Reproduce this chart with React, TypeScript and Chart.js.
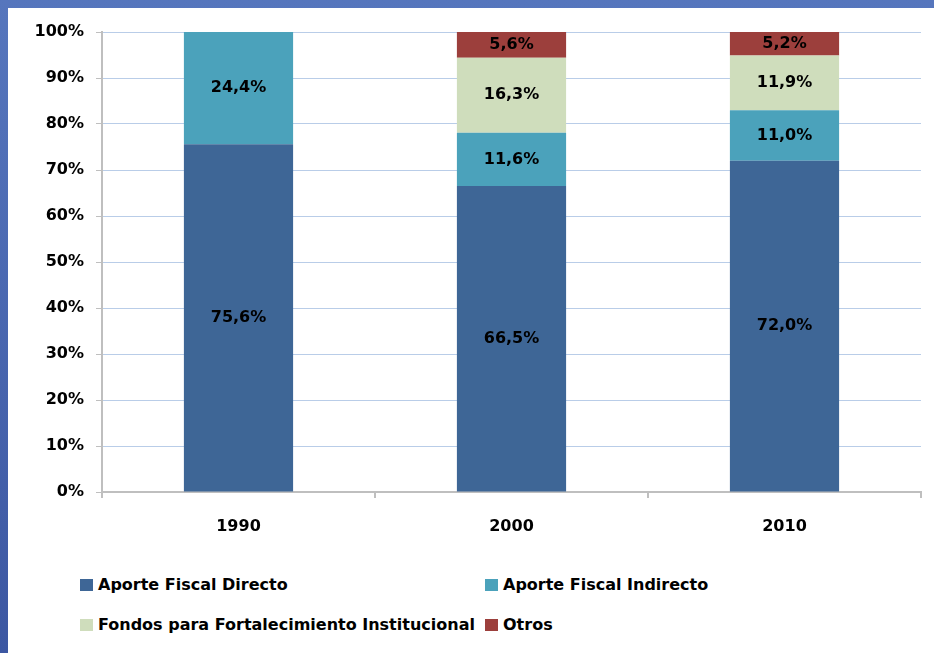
import React, { useEffect, useRef } from "react";
import { Chart, registerables } from "chart.js";

Chart.register(...registerables);

const categories = ["1990", "2000", "2010"];
const aporteDirecto = [75.6, 66.5, 72.0];
const aporteIndirecto = [24.4, 11.6, 11.0];
const fondos = [0, 16.3, 11.9];
const otros = [0, 5.6, 5.2];
const seriesNames = [
  "Aporte Fiscal Directo",
  "Aporte Fiscal Indirecto",
  "Fondos para Fortalecimiento Institucional",
  "Otros",
];
const seriesColors = ["#3E6696", "#4BA2BB", "#CFDDBC", "#9C3F3C"];

const FONT = "'DejaVu Sans', Verdana, sans-serif";

const labelPlugin = {
  id: "barLabels",
  afterDatasetsDraw(chart: any) {
    const ctx = chart.ctx;
    ctx.save();
    ctx.font = `bold 16px ${FONT}`;
    ctx.fillStyle = "#000";
    ctx.textAlign = "center";
    ctx.textBaseline = "middle";
    chart.data.datasets.forEach((ds: any, di: number) => {
      const meta = chart.getDatasetMeta(di);
      meta.data.forEach((el: any, i: number) => {
        const v = ds.data[i];
        if (!v) return;
        const y = (el.y + el.base) / 2;
        ctx.fillText(v.toFixed(1).replace(".", ",") + "%", el.x, y);
      });
    });
    ctx.restore();
  },
};

export default function App() {
  const ref = useRef<HTMLCanvasElement>(null);
  useEffect(() => {
    const data = [aporteDirecto, aporteIndirecto, fondos, otros];
    const chart = new Chart(ref.current!, {
      type: "bar",
      data: {
        labels: categories,
        datasets: data.map((d, i) => ({
          label: seriesNames[i],
          data: d,
          backgroundColor: seriesColors[i],
          borderWidth: 0,
          barPercentage: 0.4,
          categoryPercentage: 1,
        })),
      },
      options: {
        animation: false,
        responsive: false,
        layout: { padding: { left: 0, right: 13, top: 32, bottom: 0 } },
        plugins: { legend: { display: false }, tooltip: { enabled: false } },
        scales: {
          x: {
            stacked: true,
            offset: true,
            grid: {
              display: true,
              drawOnChartArea: false,
              drawTicks: true,
              tickLength: 6,
              lineWidth: 2,
              color: "#BFBFBF",
              offset: true,
            },
            border: { color: "#BFBFBF", width: 2 },
            ticks: {
              color: "#000",
              font: { family: FONT, size: 16, weight: "bold" },
              padding: 19,
            },
            afterFit(scale: any) {
              scale.height = 68;
            },
          },
          y: {
            stacked: true,
            min: 0,
            max: 100,
            grid: {
              color: "#B9CDE8",
              tickColor: "#BFBFBF",
              tickLength: 6,
              lineWidth: 1,
            },
            border: { color: "#BFBFBF", width: 2 },
            ticks: {
              stepSize: 10,
              color: "#000",
              padding: 12,
              font: { family: FONT, size: 16, weight: "bold" },
              callback: (v: any) => v + "%",
            },
            afterFit(scale: any) {
              scale.width = 102;
            },
          },
        },
      } as any,
      plugins: [labelPlugin],
    });
    return () => chart.destroy();
  }, []);

  const legendItem = (i: number, left: number, top: number) => (
    <div
      key={i}
      style={{
        position: "absolute",
        left,
        top,
        display: "flex",
        alignItems: "center",
        fontFamily: FONT,
        fontWeight: "bold",
        fontSize: 16,
        color: "#000",
        whiteSpace: "nowrap",
      }}
    >
      <span
        style={{
          display: "inline-block",
          width: 13,
          height: 12,
          background: seriesColors[i],
          marginRight: 5,
        }}
      />
      {seriesNames[i]}
    </div>
  );

  return (
    <div
      style={{
        position: "fixed",
        left: 0,
        top: 0,
        width: 934,
        height: 653,
        background: "linear-gradient(180deg, #5676BD 0%, #3C57A2 100%)",
        overflow: "hidden",
      }}
    >
      <div
        style={{
          position: "absolute",
          left: 8,
          top: 8,
          right: 0,
          bottom: 0,
          background: "#fff",
        }}
      />
      <canvas
        ref={ref}
        width={934}
        height={560}
        style={{ position: "absolute", left: 0, top: 0, width: 934, height: 560 }}
      />
      {legendItem(0, 80, 575)}
      {legendItem(1, 485, 575)}
      {legendItem(2, 80, 615)}
      {legendItem(3, 485, 615)}
    </div>
  );
}
